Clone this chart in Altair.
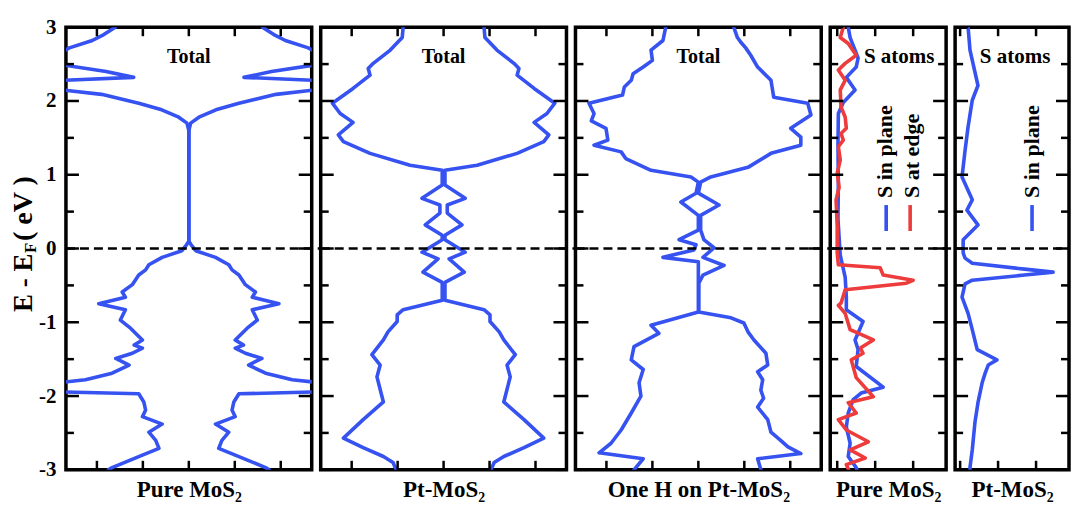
import altair as alt
import pandas as pd

# ---------------- data ----------------
# Panel 1: Pure MoS2, total DOS (spin-up branch; spin-down is its mirror)
p1_energy = [3.0, 2.9, 2.82, 2.72, 2.65, 2.57, 2.49, 2.40, 2.32, 2.28,
             2.21, 2.15, 2.09, 1.97, 1.88, 1.78, 1.70, 1.60, 0.10, 0.05,
             -0.03, -0.12, -0.22, -0.29, -0.36, -0.49, -0.59, -0.66, -0.75, -0.83,
             -0.97, -1.08, -1.24, -1.31, -1.35, -1.42, -1.49, -1.58, -1.69, -1.78,
             -1.83, -1.88, -1.94, -1.97, -2.08, -2.19, -2.28, -2.38, -2.49, -2.60,
             -2.71, -2.80, -2.97, -3.0]
p1_dos = [1.6, 1.85, 2.1, 2.6, 2.8, 3.4, 2.75, 1.8, 1.2, 2.75,
          3.6, 2.75, 1.9, 1.09, 0.59, 0.22, 0.04, 0.0, 0.0, 0.05,
          0.15, 0.58, 0.87, 0.94, 1.09, 1.23, 1.45, 1.38, 1.96, 1.38,
          1.49, 1.27, 1.01, 1.19, 1.01, 1.23, 1.59, 1.30, 1.67, 2.25,
          3.0, 4.0, 3.0, 1.09, 0.98, 0.94, 1.01, 0.58, 0.87, 0.72,
          0.65, 1.01, 1.67, 1.75]

# Panel 2: Pt-MoS2, total DOS (spin-up; spin-down mirrored)
p2_energy = [3.0, 2.86, 2.69, 2.51, 2.44, 2.35, 2.17, 1.97, 1.83, 1.71,
             1.54, 1.45, 1.29, 1.13, 1.06, 0.86, 0.68, 0.59, 0.48, 0.32,
             0.18, 0.12, -0.05, -0.14, -0.32, -0.46, -0.70, -0.83, -0.90, -0.99,
             -1.13, -1.24, -1.44, -1.58, -1.74, -2.08, -2.32, -2.57, -2.70, -2.82,
             -2.90, -3.0]
p2_dos = [0.88, 0.9, 1.16, 1.53, 1.64, 1.6, 1.97, 2.42, 2.25, 1.97,
          2.29, 2.18, 1.6, 0.73, 0.03, 0.03, 0.47, 0.08, 0.08, 0.4,
          0.03, 0.03, 0.47, 0.12, 0.45, 0.03, 0.03, 0.88, 1.01, 1.01,
          1.21, 1.31, 1.56, 1.38, 1.45, 1.31, 1.75, 2.18, 1.75, 1.31,
          1.1, 1.03]

# Panel 3: One H on Pt-MoS2, total DOS, spin-up and spin-down
p3_energy_up = [3.0, 2.86, 2.80, 2.72, 2.62, 2.46, 2.28, 2.05, 1.97, 1.81,
                1.63, 1.51, 1.40, 1.29, 1.10, 0.97, 0.90, 0.75, 0.59, 0.45,
                0.25, 0.12, 0.01, -0.12, -0.23, -0.36, -0.47, -0.86, -0.94, -1.01,
                -1.13, -1.24, -1.42, -1.58, -1.67, -1.78, -1.92, -2.03, -2.15, -2.32,
                -2.49, -2.60, -2.69, -2.78, -2.85, -3.0]
p3_dos_up = [0.77, 0.85, 0.92, 1.03, 1.14, 1.29, 1.58, 1.64, 2.38, 2.45,
             2.01, 2.23, 2.23, 1.58, 1.08, 0.27, 0.05, 0.0, 0.45, 0.05,
             0.05, 0.12, 0.34, 0.1, 0.56, 0.1, 0.01, 0.01, 0.71, 0.99,
             1.08, 1.21, 1.47, 1.51, 1.29, 1.40, 1.36, 1.42, 1.29, 1.51,
             1.58, 1.79, 1.95, 2.23, 1.29, 1.36]
p3_energy_dn = [3.0, 2.82, 2.69, 2.55, 2.46, 2.37, 2.28, 2.19, 2.08, 1.97,
                1.83, 1.73, 1.63, 1.47, 1.40, 1.31, 1.22, 1.06, 0.97, 0.90,
                0.75, 0.63, 0.45, 0.25, 0.12, 0.05, -0.02, -0.12, -0.18, -0.27,
                -0.86, -1.04, -1.15, -1.33, -1.51, -1.64, -1.82, -2.00, -2.23, -2.46,
                -2.64, -2.77, -2.85, -3.0]
p3_dos_dn = [0.71, 0.77, 1.03, 1.0, 1.2, 1.42, 1.46, 1.61, 1.65, 2.38,
             2.27, 2.33, 2.01, 1.97, 2.27, 1.68, 1.58, 1.03, 0.16, 0.0,
             0.05, 0.38, 0.0, 0.0, 0.42, 0.05, 0.1, 0.77, 0.0, 0.0,
             0.0, 1.03, 0.86, 1.4, 1.46, 1.2, 1.29, 1.25, 1.46, 1.68,
             1.9, 2.16, 1.2, 1.4]

# Panel 4: Pure MoS2, S atoms (in plane = blue, at edge = red)
p4_energy_plane = [3.0, 2.86, 2.69, 2.58, 2.46, 2.32, 2.15, 1.98, 1.83, 1.4,
                   0.9, 0.4, -0.09, -0.39, -0.66, -0.83, -0.99, -1.24, -1.37, -1.60,
                   -1.88, -1.96, -2.05, -2.23, -2.42, -2.64, -2.82, -2.97, -3.0]
p4_dos_plane = [0.29, 0.34, 0.47, 0.55, 0.5, 0.24, 0.47, 0.16, 0.03, 0.02,
                0.03, 0.02, 0.08, 0.21, 0.24, 0.24, 0.68, 0.47, 0.55, 0.5,
                1.21, 0.63, 0.42, 0.29, 0.24, 0.34, 0.29, 0.5, 0.52]
p4_energy_edge = [3.0, 2.86, 2.78, 2.62, 2.51, 2.42, 2.28, 2.15, 1.92, 1.78,
                  1.63, 1.56, 1.47, 1.38, 1.20, 1.02, 0.83, 0.66, 0.3, -0.06,
                  -0.22, -0.26, -0.36, -0.43, -0.47, -0.56, -0.74, -0.77, -0.88, -1.10,
                  -1.24, -1.35, -1.42, -1.51, -1.75, -2.01, -2.09, -2.23, -2.32, -2.46,
                  -2.62, -2.73, -2.84, -2.93, -3.0]
p4_dos_edge = [0.16, 0.08, 0.29, 0.5, 0.21, 0.03, 0.21, 0.08, 0.1, 0.21,
               0.24, 0.1, 0.16, 0.03, 0.08, 0.0, 0.05, -0.03, 0.0, 0.0,
               0.03, 1.13, 1.21, 2.0, 1.82, 0.21, 0.1, 0.03, 0.21, 0.34,
               0.95, 0.61, 0.68, 0.37, 0.5, 0.95, 0.29, 0.5, 0.03, 0.24,
               0.82, 0.34, 0.74, 0.24, 0.3]

# Panel 5: Pt-MoS2, S atoms in plane
p5_energy = [3.0, 2.69, 2.21, 2.01, 1.65, 1.33, 0.97, 0.66, 0.52, 0.32,
             0.12, -0.06, -0.13, -0.20, -0.28, -0.32, -0.36, -0.43, -0.48, -0.66,
             -0.88, -1.10, -1.37, -1.51, -1.58, -1.69, -1.82, -2.09, -2.36, -2.73,
             -2.97, -3.0]
p5_dos = [0.21, 0.26, 0.47, 0.32, 0.21, 0.13, 0.05, 0.32, 0.18, 0.47,
          0.08, 0.08, 0.13, 0.32, 1.7, 2.45, 1.7, 0.32, 0.13, 0.05,
          0.21, 0.32, 0.45, 0.97, 0.74, 0.66, 0.58, 0.47, 0.39, 0.32,
          0.26, 0.26]

bottom_labels = ["Pure MoS\u2082", "Pt-MoS\u2082", "One H on Pt-MoS\u2082",
                 "Pure MoS\u2082", "Pt-MoS\u2082"]
top_labels = ["Total", "Total", "Total", "S atoms", "S atoms"]
legend_labels = ["S in plane", "S at edge"]
y_major = [-3, -2, -1, 0, 1, 2, 3]
y_minor = [-2.5, -1.5, -0.5, 0.5, 1.5, 2.5]
x_ticks_total = [-2, -1, 0, 1, 2]
x_ticks_s = [0, 1, 2]

# ---------------- styling ----------------
FONT = "Liberation Serif"
BLUE = "#3652f0"
RED = "#ee3b3b"
H = 443
SPACING = 9


def curve_df(energy, dos, sign, branch):
    return pd.DataFrame({"E": energy, "dos": [sign * d for d in dos],
                         "branch": branch, "i": list(range(len(energy)))})


def text_layer(txt, x, y, size, angle=0, align="center", baseline="middle",
               dx=0):
    kw = dict(font=FONT, fontSize=size, fontWeight="bold", color="black",
              align=align, baseline=baseline, dx=dx)
    if angle:
        kw["angle"] = angle
    return alt.Chart(pd.DataFrame({"s": [txt]})).mark_text(**kw).encode(
        x=alt.value(x), y=alt.value(y), text="s:N")


def make_panel(width, xdom, xticks, curves, bottom_label, top_label, top_x,
               top_size=20, extra=(), ylabels=False, dash_ext=SPACING):
    xs = alt.Scale(domain=xdom, nice=False, zero=False)
    ys = alt.Scale(domain=[-3, 3], nice=False, zero=False)
    if ylabels:
        yaxis = alt.Axis(values=y_major, labelExpr="'' + datum.value",
                         title=None, ticks=False, tickSize=0, domain=False,
                         grid=False, labelFont=FONT, labelFontSize=21,
                         labelFontWeight="bold", labelColor="black",
                         labelPadding=10, labelOverlap=False)
    else:
        yaxis = None
    xaxis = alt.Axis(title=bottom_label, labels=False, ticks=False,
                     tickSize=0, domain=False, grid=False, titleFont=FONT,
                     titleFontSize=23, titleFontWeight="bold",
                     titleColor="black", titlePadding=9, titleLimit=400)
    layers = []
    for df, color in curves:
        layers.append(
            alt.Chart(df).mark_line(clip=True, strokeWidth=3.6, color=color,
                                    strokeJoin="round", strokeCap="round").encode(
                x=alt.X("dos:Q", scale=xs, axis=xaxis),
                y=alt.Y("E:Q", scale=ys, axis=yaxis),
                detail="branch:N", order="i:Q"))
    # dashed Fermi level
    layers.append(
        alt.Chart(pd.DataFrame({"E": [0.0]})).mark_rule(
            color="black", strokeWidth=2.5, strokeDash=[9, 5]).encode(
            y=alt.Y("E:Q", scale=ys, axis=yaxis),
            x=alt.value(0), x2=alt.value(width + dash_ext)))
    # inward ticks
    for vals, ln in ((y_major, 13), (y_minor, 8)):
        tdf = pd.DataFrame({"E": vals})
        layers.append(alt.Chart(tdf).mark_rule(color="black", strokeWidth=2.5).encode(
            y=alt.Y("E:Q", scale=ys, axis=yaxis), x=alt.value(0), x2=alt.value(ln)))
        layers.append(alt.Chart(tdf).mark_rule(color="black", strokeWidth=2.5).encode(
            y=alt.Y("E:Q", scale=ys, axis=yaxis), x=alt.value(width - ln),
            x2=alt.value(width)))
    xdf = pd.DataFrame({"dos": xticks})
    layers.append(alt.Chart(xdf).mark_rule(color="black", strokeWidth=2.5).encode(
        x=alt.X("dos:Q", scale=xs, axis=xaxis), y=alt.value(0), y2=alt.value(9)))
    layers.append(alt.Chart(xdf).mark_rule(color="black", strokeWidth=2.5).encode(
        x=alt.X("dos:Q", scale=xs, axis=xaxis), y=alt.value(H - 9), y2=alt.value(H)))
    layers.append(text_layer(top_label, top_x, 30, top_size))
    layers.extend(extra)
    return alt.layer(*layers).properties(width=width, height=H)


WT = 246
# Panel 1
p1 = make_panel(
    WT, [-2.674, 2.674], x_ticks_total,
    [(pd.concat([curve_df(p1_energy, p1_dos, 1, "up"),
                 curve_df(p1_energy, p1_dos, -1, "down")]), BLUE)],
    bottom_labels[0], top_labels[0], WT / 2,
    extra=[
        text_layer("E - E", -34, 285, 27, angle=270, align="left",
                   baseline="alphabetic"),
        text_layer("F", -30, 226, 17, angle=270, align="left",
                   baseline="alphabetic"),
        text_layer("( eV )", -34, 214, 28, angle=270, align="left",
                   baseline="alphabetic"),
    ],
    ylabels=True)

# Panel 2
p2 = make_panel(
    WT, [-2.674, 2.674], x_ticks_total,
    [(pd.concat([curve_df(p2_energy, p2_dos, 1, "up"),
                 curve_df(p2_energy, p2_dos, -1, "down")]), BLUE)],
    bottom_labels[1], top_labels[1], WT / 2)

# Panel 3
p3 = make_panel(
    WT, [-2.674, 2.674], x_ticks_total,
    [(pd.concat([curve_df(p3_energy_up, p3_dos_up, 1, "up"),
                 curve_df(p3_energy_dn, p3_dos_dn, -1, "down")]), BLUE)],
    bottom_labels[2], top_labels[2], WT / 2)

# Panel 4
W4 = 116
legend4 = [
    text_layer(legend_labels[0], 55, 171, 22, angle=270, align="left"),
    text_layer(legend_labels[1], 82, 171, 22, angle=270, align="left"),
    alt.Chart(pd.DataFrame({"k": [legend_labels[0]]})).mark_rule(
        color=BLUE, strokeWidth=3.6).encode(
        x=alt.value(56), y=alt.value(178), y2=alt.value(204)),
    alt.Chart(pd.DataFrame({"k": [legend_labels[1]]})).mark_rule(
        color=RED, strokeWidth=3.6).encode(
        x=alt.value(80), y=alt.value(178), y2=alt.value(204)),
]
p4 = make_panel(
    W4, [-0.184, 2.868], x_ticks_s,
    [(curve_df(p4_energy_plane, p4_dos_plane, 1, "plane"), BLUE),
     (curve_df(p4_energy_edge, p4_dos_edge, 1, "edge"), RED)],
    bottom_labels[3], top_labels[3], 69, top_size=21, extra=legend4)

# Panel 5
W5 = 114
legend5 = [
    text_layer(legend_labels[0], 77, 171, 22, angle=270, align="left"),
    alt.Chart(pd.DataFrame({"k": [legend_labels[0]]})).mark_rule(
        color=BLUE, strokeWidth=3.6).encode(
        x=alt.value(77), y=alt.value(178), y2=alt.value(204)),
]
p5 = make_panel(
    W5, [-0.132, 2.868], x_ticks_s,
    [(curve_df(p5_energy, p5_dos, 1, "plane"), BLUE)],
    bottom_labels[4], top_labels[4], 60, top_size=21, extra=legend5,
    dash_ext=0)

chart = alt.hconcat(p1, p2, p3, p4, p5, spacing=SPACING, bounds="flush").properties(
    padding={"left": 0, "top": 6, "right": 0, "bottom": 0}
).configure_view(stroke="black", strokeWidth=3.5)

chart.save("out.html", embed_options={"renderer": "svg", "actions": False})
